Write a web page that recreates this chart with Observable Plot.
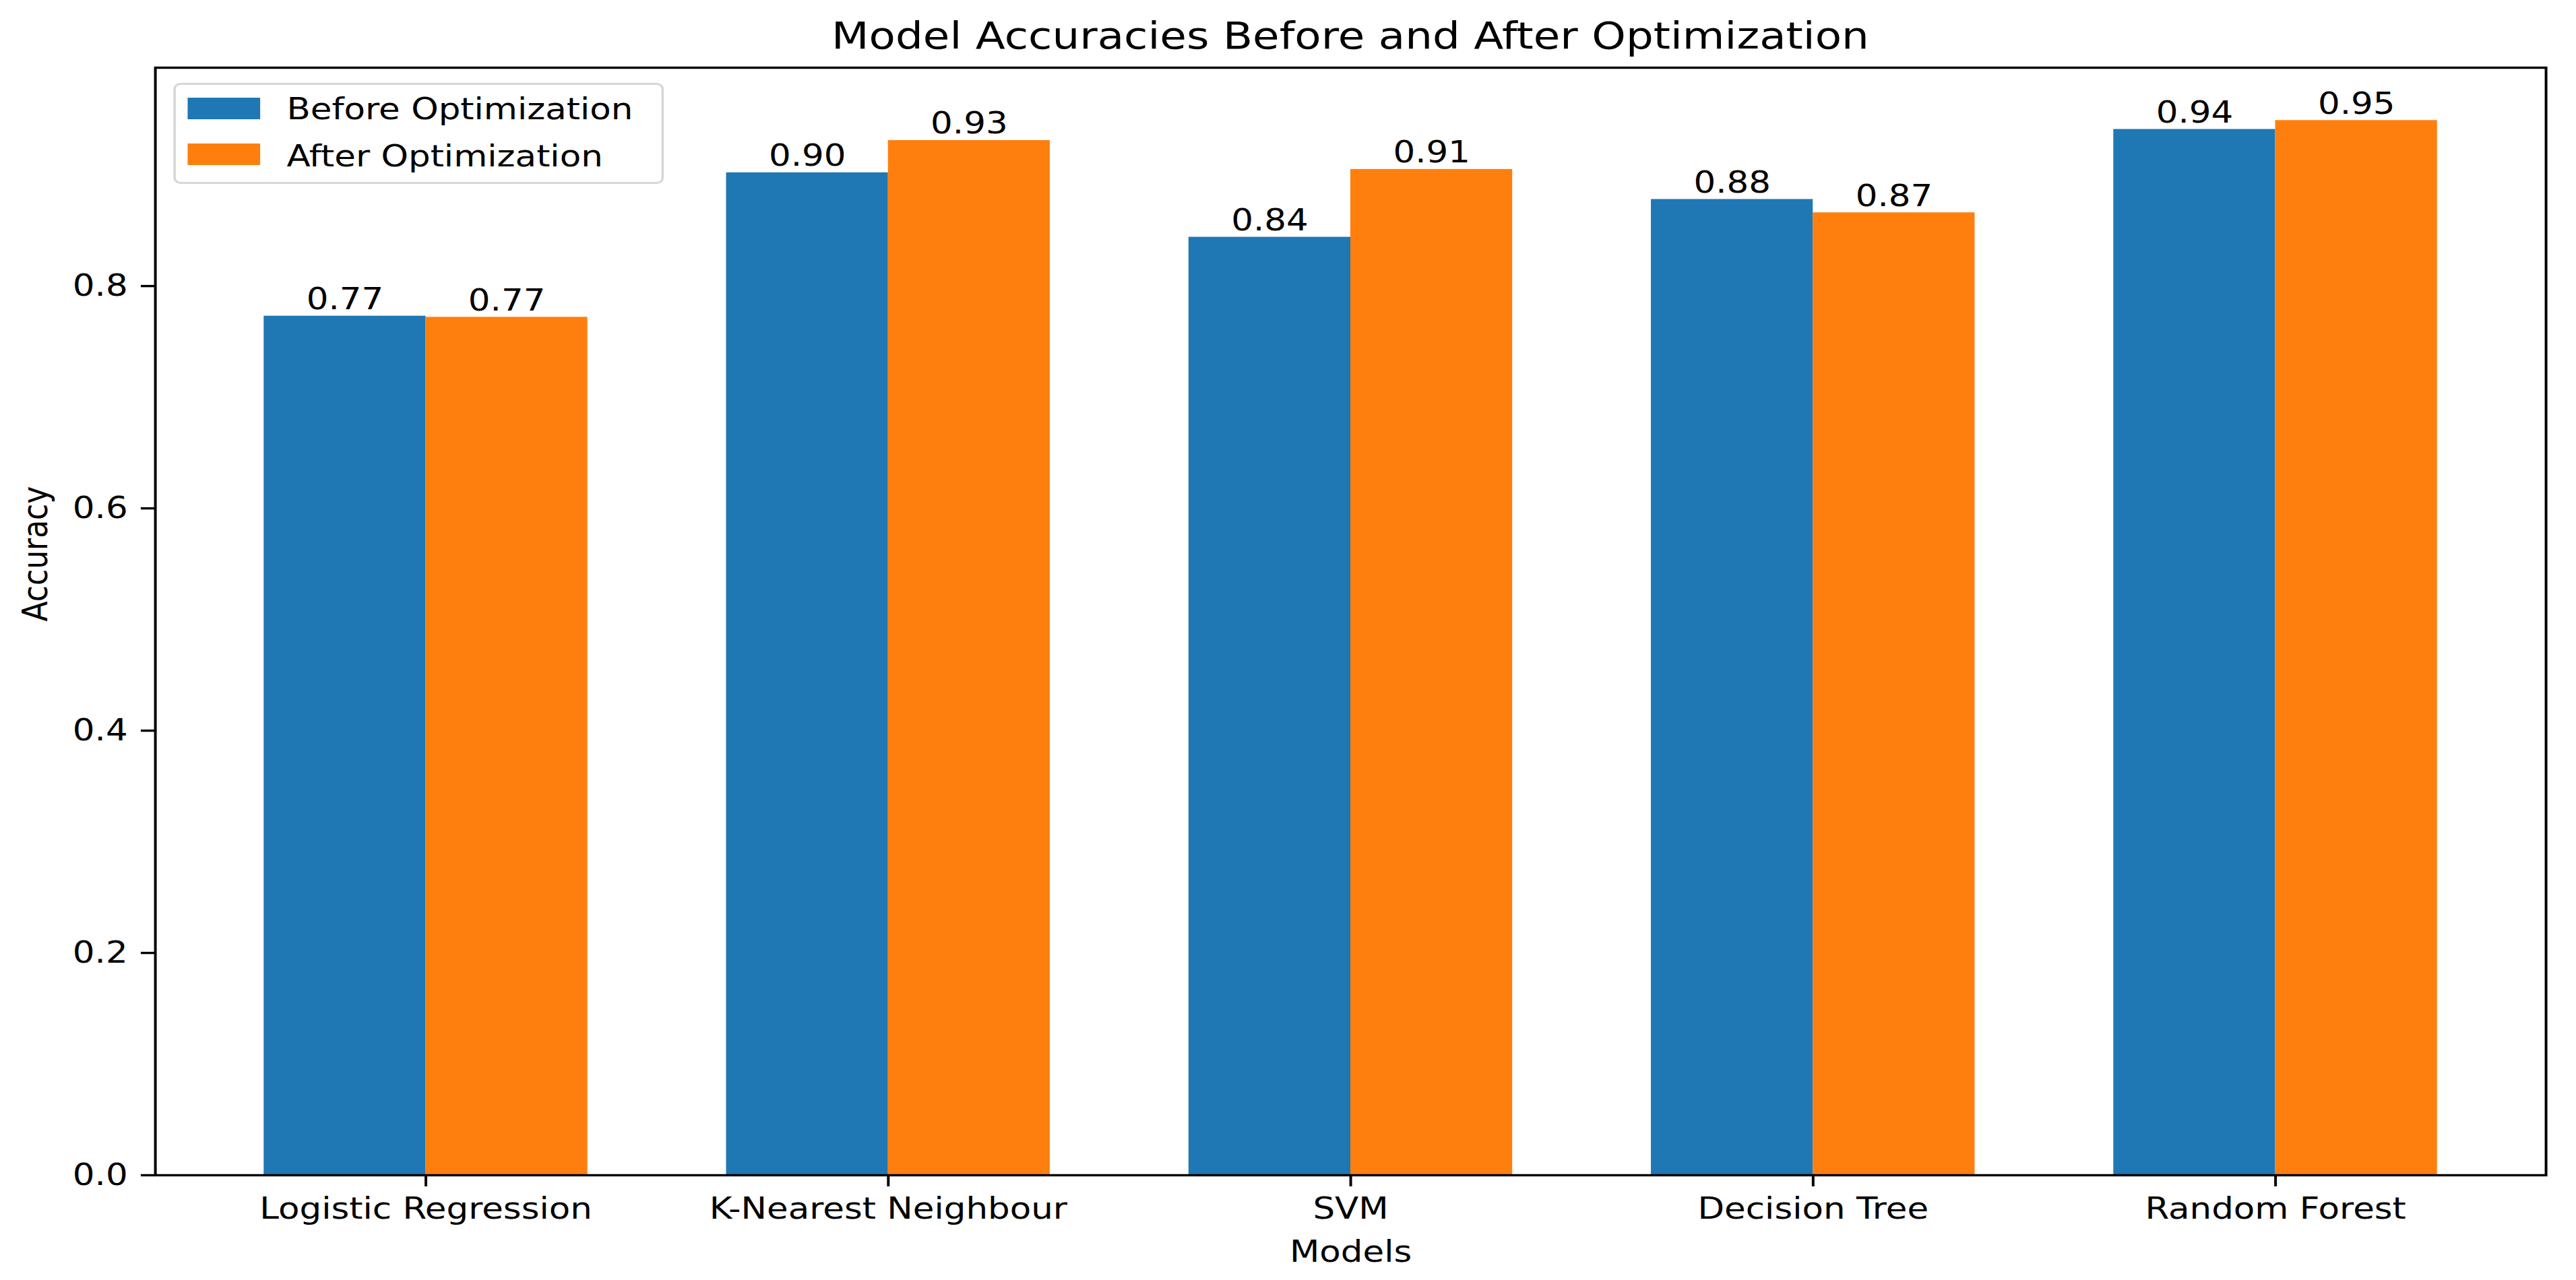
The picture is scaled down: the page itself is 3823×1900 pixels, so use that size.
<!DOCTYPE html>
<html>
<head>
<meta charset="utf-8">
<script src="https://cdn.jsdelivr.net/npm/d3@7"></script>
<script src="https://cdn.jsdelivr.net/npm/@observablehq/plot@0.6"></script>
<style>
  html, body { margin: 0; padding: 0; background: white; overflow: hidden; }
  #fig { position: relative; transform-origin: 0 0; font-family: "DejaVu Sans", sans-serif; color: black; }
  #title { position: absolute; left: 0; text-align: center; white-space: nowrap; }
  #chart { position: absolute; left: 0; }
  #legend { position: absolute; box-sizing: border-box; background: rgba(255,255,255,0.8); border: 3px solid #d6d6d6; border-radius: 9px; }
  #legend .sw { position: absolute; }
  #legend .lb { position: absolute; white-space: nowrap; }
</style>
</head>
<body>
<div id="fig">
  <div id="title"></div>
  <div id="chart"></div>
  <div id="legend"></div>
</div>
<script>
// ---- data ----
const models = ["Logistic Regression", "K-Nearest Neighbour", "SVM", "Decision Tree", "Random Forest"];
const series = ["Before Optimization", "After Optimization"];
const beforeAcc = [0.773, 0.902, 0.844, 0.878, 0.941];
const afterAcc = [0.772, 0.931, 0.905, 0.866, 0.949];
const yTicks = [0, 0.2, 0.4, 0.6, 0.8];
const colors = ["#1f77b4", "#ff7f0e"];
const titleText = "Model Accuracies Before and After Optimization";
const xLabel = "Models";
const yLabel = "Accuracy";

// ---- layout (the original figure is horizontally stretched) ----
const S = 1.17;               // horizontal stretch factor
const PAGE_W = 3823, PAGE_H = 1900;
const W = PAGE_W / S;
const chartTop = 96;
const H = PAGE_H - chartTop;
const FS = 44;

// ---- derived table ----
const barW = 0.35;
const allAcc = [beforeAcc, afterAcc];
const rows = [];
models.forEach((m, i) => {
  series.forEach((s, k) => {
    rows.push({model: m, series: s, value: allAcc[k][i], x1: i + (k - 1) * barW, x2: i + k * barW});
  });
});
const lo = -barW, hi = models.length - 1 + barW;
const xPad = 0.05 * (hi - lo);
const yMax = d3.max(rows, d => d.value) * 1.05;

const fig = document.getElementById("fig");
fig.style.width = W + "px";
fig.style.height = PAGE_H + "px";
fig.style.transform = `scaleX(${S})`;

const marginLeft = 230 / S, marginRight = (PAGE_W - 3778) / S;

const chart = Plot.plot({
  width: W,
  height: H,
  marginTop: 4,
  marginBottom: 156,
  marginLeft,
  marginRight,
  x: {type: "linear", domain: [lo - xPad, hi + xPad]},
  y: {domain: [0, yMax]},
  color: {domain: series, range: colors},
  style: {fontFamily: "DejaVu Sans", fontSize: FS + "px", color: "black", background: "white"},
  marks: [
    Plot.rect(rows, {x1: "x1", x2: "x2", y1: 0, y2: "value", fill: "series"}),
    Plot.text(rows, {x: d => (d.x1 + d.x2) / 2, y: "value", text: d => d.value.toFixed(2),
      lineAnchor: "bottom", dy: -10, fontSize: FS, fill: "black"}),
    Plot.frame({stroke: "black", strokeWidth: 3.4}),
    Plot.axisX({ticks: d3.range(models.length), tickFormat: i => models[i], tickSize: 17, tickPadding: 16,
      strokeWidth: 3.4, fontSize: FS, label: null, fill: "black", stroke: "black"}),
    Plot.axisY({ticks: yTicks, tickFormat: d3.format(".1f"), tickSize: 18, tickPadding: 17,
      strokeWidth: 3.4, fontSize: FS, label: null, fill: "black", stroke: "black"}),
    Plot.text([xLabel], {frameAnchor: "bottom", lineAnchor: "bottom", dy: 129, fontSize: FS, fill: "black"}),
    Plot.text([yLabel], {frameAnchor: "left", rotate: -90, dx: -151, fontSize: FS, fill: "black"})
  ]
});
const chartDiv = document.getElementById("chart");
chartDiv.style.top = chartTop + "px";
chartDiv.appendChild(chart);

// title
const title = document.getElementById("title");
title.textContent = titleText;
title.style.left = marginLeft + "px";
title.style.width = (W - marginLeft - marginRight) + "px";
title.style.top = "26px";
title.style.fontSize = "55px";
title.style.lineHeight = "55px";

// legend
const legend = document.getElementById("legend");
legend.style.left = (257 / S) + "px";
legend.style.top = "123px";
legend.style.width = ((985 - 257) / S) + "px";
legend.style.height = "150px";
series.forEach((s, k) => {
  const sw = document.createElement("div");
  sw.className = "sw";
  sw.style.left = "15px";
  sw.style.top = (19 + k * 68) + "px";
  sw.style.width = "92px";
  sw.style.height = "32px";
  sw.style.background = colors[k];
  legend.appendChild(sw);
  const lb = document.createElement("div");
  lb.className = "lb";
  lb.textContent = s;
  lb.style.left = "141px";
  lb.style.top = (14 + k * 70) + "px";
  lb.style.fontSize = FS + "px";
  lb.style.lineHeight = FS + "px";
  legend.appendChild(lb);
});
</script>
</body>
</html>
